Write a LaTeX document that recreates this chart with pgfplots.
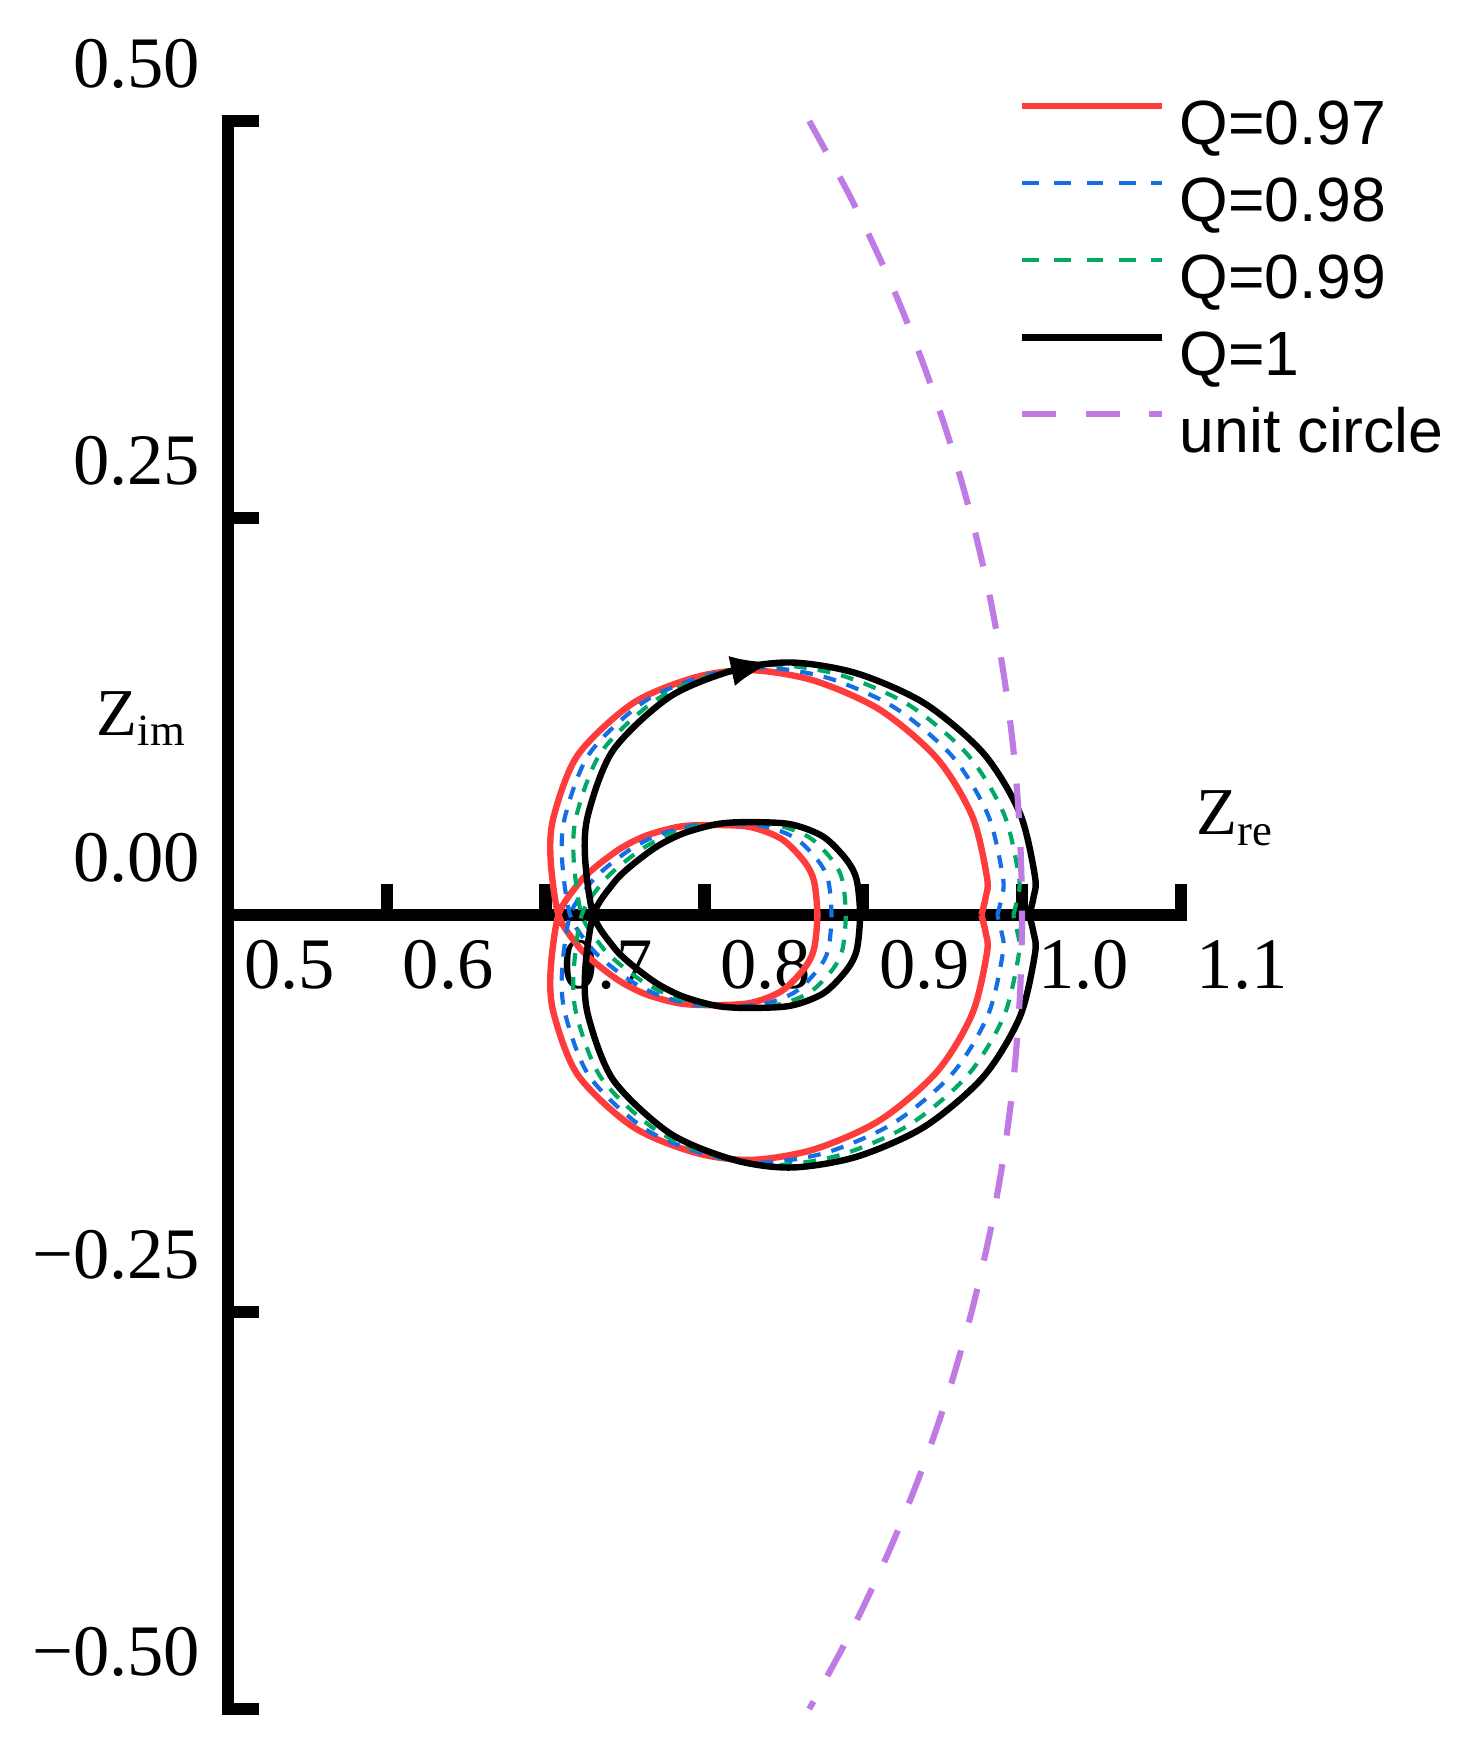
\documentclass[border=0pt]{standalone}
\usepackage{fontspec}
\setmainfont{Liberation Serif}
\newfontfamily\legfont{Liberation Sans}
\usepackage{pgfplots}
\pgfplotsset{compat=1.18}
\usetikzlibrary{arrows.meta}
\definecolor{cred}{RGB}{255,60,60}
\definecolor{cblue}{RGB}{20,110,230}
\definecolor{cgreen}{RGB}{0,170,100}
\definecolor{cpurple}{RGB}{192,122,228}
\begin{document}
\begin{tikzpicture}
\begin{axis}[
  x=10cm, y=10cm,
  xmin=0.5, xmax=1.1, ymin=-0.5, ymax=0.5,
  clip=false,
  axis x line*=middle, axis y line*=left,
  axis line style={line width=2.2pt, line cap=rect, black},
  hide obscured x ticks=false, hide obscured y ticks=false,
  xtick={0.5,0.6,0.7,0.8,0.9,1.0,1.1},
  xticklabels={0.5,0.6,0.7,0.8,0.9,1.0,1.1},
  ytick={-0.5,-0.25,0,0.25,0.5},
  yticklabels={−0.50,−0.25,0.00,0.25,0.50},
  tick align=inside,
  major tick length=5.6pt,
  tick style={line width=2.2pt, black},
  tick label style={font=\fontsize{13}{15}\selectfont, inner sep=0pt},
  xticklabel style={anchor=center, xshift=11pt, yshift=-8.9pt},
  yticklabel style={anchor=east, xshift=-4.8pt, yshift=10.2pt},
  legend style={draw=none, fill=none, at={(0.8298,1.0135)}, anchor=north west,
    inner sep=0pt, outer sep=0pt, font=\legfont\fontsize{11.2}{13}\selectfont,
    row sep=3.4pt, column sep=2.6pt,
    nodes={inner sep=0pt, text height=8pt, text depth=2.4pt}},
  legend cell align=left,
  legend image code/.code={\draw[#1] (0pt,4pt) -- (25.1pt,4pt);},
]
\addplot[cred, line width=1.15pt, smooth] coordinates {
(0.9744,0) (0.9770,0.0107) (0.9780,0.0233) (0.9687,0.0621) (0.9464,0.0987) (0.9104,0.1293) (0.8690,0.1476) (0.8294,0.1542) (0.7944,0.1497) (0.7550,0.1334) (0.7203,0.1008) (0.7051,0.0621) (0.7031,0.0356) (0.7081,0)
(0.7203,-0.0193) (0.7305,-0.0295) (0.7468,-0.0417) (0.7631,-0.0499) (0.7835,-0.0555) (0.8018,-0.0567) (0.8283,-0.0555) (0.8487,-0.0478) (0.8629,-0.0336) (0.8690,-0.0213) (0.8711,0)
(0.8690,0.0213) (0.8629,0.0336) (0.8487,0.0478) (0.8283,0.0555) (0.8018,0.0567) (0.7835,0.0555) (0.7631,0.0499) (0.7468,0.0417) (0.7305,0.0295) (0.7203,0.0193) (0.7081,0)
(0.7031,-0.0356) (0.7051,-0.0621) (0.7203,-0.1008) (0.7550,-0.1334) (0.7944,-0.1497) (0.8294,-0.1542) (0.8690,-0.1476) (0.9104,-0.1293) (0.9464,-0.0987) (0.9687,-0.0621) (0.9780,-0.0233) (0.9770,-0.0107) (0.9744,0)
};
\addlegendentry{Q=0.97}
\addplot[cblue, line width=0.75pt, smooth, dash pattern=on 2.3pt off 2pt, legend image post style={dash pattern=on 3pt off 2.8pt}] coordinates {
(0.9844,0) (0.9871,0.0108) (0.9880,0.0235) (0.9787,0.0627) (0.9562,0.0998) (0.9198,0.1306) (0.8780,0.1492) (0.8379,0.1558) (0.8026,0.1512) (0.7627,0.1348) (0.7277,0.1018) (0.7124,0.0627) (0.7103,0.0360) (0.7154,0)
(0.7277,-0.0195) (0.7380,-0.0298) (0.7545,-0.0421) (0.7710,-0.0504) (0.7915,-0.0561) (0.8101,-0.0573) (0.8368,-0.0561) (0.8574,-0.0483) (0.8718,-0.0339) (0.8780,-0.0216) (0.8800,0)
(0.8780,0.0216) (0.8718,0.0339) (0.8574,0.0483) (0.8368,0.0561) (0.8101,0.0573) (0.7915,0.0561) (0.7710,0.0504) (0.7545,0.0421) (0.7380,0.0298) (0.7277,0.0195) (0.7154,0)
(0.7103,-0.0360) (0.7124,-0.0627) (0.7277,-0.1018) (0.7627,-0.1348) (0.8026,-0.1512) (0.8379,-0.1558) (0.8780,-0.1492) (0.9198,-0.1306) (0.9562,-0.0998) (0.9787,-0.0627) (0.9880,-0.0235) (0.9871,-0.0108) (0.9844,0)
};
\addlegendentry{Q=0.98}
\addplot[cgreen, line width=0.75pt, smooth, dash pattern=on 2.3pt off 2pt, legend image post style={dash pattern=on 3pt off 2.8pt}] coordinates {
(0.9945,0) (0.9971,0.0109) (0.9981,0.0238) (0.9887,0.0634) (0.9659,0.1008) (0.9292,0.1320) (0.8869,0.1507) (0.8465,0.1574) (0.8108,0.1528) (0.7705,0.1361) (0.7352,0.1029) (0.7196,0.0634) (0.7176,0.0363) (0.7227,0)
(0.7352,-0.0197) (0.7456,-0.0301) (0.7622,-0.0426) (0.7788,-0.0509) (0.7996,-0.0566) (0.8183,-0.0579) (0.8454,-0.0566) (0.8662,-0.0488) (0.8807,-0.0343) (0.8869,-0.0218) (0.8890,0)
(0.8869,0.0218) (0.8807,0.0343) (0.8662,0.0488) (0.8454,0.0566) (0.8183,0.0579) (0.7996,0.0566) (0.7788,0.0509) (0.7622,0.0426) (0.7456,0.0301) (0.7352,0.0197) (0.7227,0)
(0.7176,-0.0363) (0.7196,-0.0634) (0.7352,-0.1029) (0.7705,-0.1361) (0.8108,-0.1528) (0.8465,-0.1574) (0.8869,-0.1507) (0.9292,-0.1320) (0.9659,-0.1008) (0.9887,-0.0634) (0.9981,-0.0238) (0.9971,-0.0109) (0.9945,0)
};
\addlegendentry{Q=0.99}
\addplot[black, line width=1.15pt, smooth] coordinates {
(1.0045,0) (1.0072,0.0110) (1.0082,0.0240) (0.9987,0.0640) (0.9757,0.1018) (0.9386,0.1333) (0.8959,0.1522) (0.8550,0.1590) (0.8190,0.1543) (0.7783,0.1375) (0.7426,0.1039) (0.7269,0.0640) (0.7248,0.0367) (0.7300,0)
(0.7426,-0.0199) (0.7531,-0.0304) (0.7699,-0.0430) (0.7867,-0.0514) (0.8077,-0.0572) (0.8266,-0.0585) (0.8539,-0.0572) (0.8749,-0.0493) (0.8896,-0.0346) (0.8959,-0.0220) (0.8980,0)
(0.8959,0.0220) (0.8896,0.0346) (0.8749,0.0493) (0.8539,0.0572) (0.8266,0.0585) (0.8077,0.0572) (0.7867,0.0514) (0.7699,0.0430) (0.7531,0.0304) (0.7426,0.0199) (0.7300,0)
(0.7248,-0.0367) (0.7269,-0.0640) (0.7426,-0.1039) (0.7783,-0.1375) (0.8190,-0.1543) (0.8550,-0.1590) (0.8959,-0.1522) (0.9386,-0.1333) (0.9757,-0.1018) (0.9987,-0.0640) (1.0082,-0.0240) (1.0072,-0.0110) (1.0045,0)
};
\addlegendentry{Q=1}
\addplot[cpurple, line width=1.1pt, smooth, dash pattern=on 6.2pt off 5.2pt] coordinates {
(0.8660,0.50) (0.8930,0.45) (0.9165,0.40) (0.9367,0.35) (0.9539,0.30) (0.9682,0.25) (0.9798,0.20) (0.9887,0.15) (0.9950,0.10) (0.9987,0.05) (1.0,0)
(0.9987,-0.05) (0.9950,-0.10) (0.9887,-0.15) (0.9798,-0.20) (0.9682,-0.25) (0.9539,-0.30) (0.9367,-0.35) (0.9165,-0.40) (0.8930,-0.45) (0.8660,-0.50)
};
\addlegendentry{unit circle}
\addplot[black, line width=1pt, forget plot, -{Latex[length=7.5pt,width=5.5pt]}] coordinates {(0.814,0.1530) (0.843,0.1592)};
\node[anchor=base west, inner sep=0pt, font=\fontsize{12}{14}\selectfont] at (axis cs:0.4166,0.1133) {Z\textsubscript{im}};
\node[anchor=base west, inner sep=0pt, font=\fontsize{12}{14}\selectfont] at (axis cs:1.1092,0.0504) {Z\textsubscript{re}};
\coordinate (bbsw) at (axis cs:0.3564,-0.5321);
\coordinate (bbne) at (axis cs:1.2865,0.5762);
\end{axis}
\pgfresetboundingbox
\path (bbsw) rectangle (bbne);
\end{tikzpicture}
\end{document}
